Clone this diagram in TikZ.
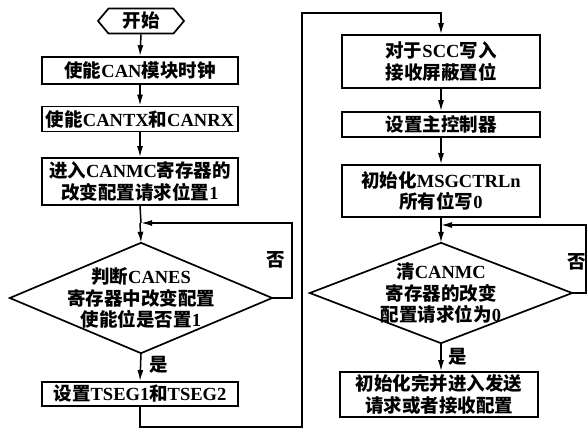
\documentclass[tikz,border=0pt]{standalone}
\usepackage{fontspec}
\setmainfont{Liberation Serif}
\newfontfamily\cjk{Noto Sans CJK SC}
\newcommand{\zh}[1]{{\cjk\bfseries #1}}
\usetikzlibrary{arrows.meta,shapes.symbols}
\begin{document}
\begin{tikzpicture}[x=1pt,y=-1pt,
  font=\fontsize{18.5}{21.5}\selectfont\bfseries,
  every node/.style={inner sep=1pt},
  stepbox/.style={draw,line width=1.7pt,minimum width=196pt,align=center},
  decbox/.style={minimum width=262pt,align=center},
  conn/.style={line width=1.5pt},
  arr/.style={conn,-{Latex[length=11pt,width=6pt]}},
  lbl/.style={inner sep=0pt}]
\useasboundingbox (0,0) rectangle (587,429);
% left column
\node[draw,line width=1.7pt,shape=signal,signal to=west and east,signal pointer angle=100,
      minimum width=86pt,minimum height=25pt] (start) at (141,21) {\zh{开始}};
\node[stepbox,minimum height=27pt] (b1) at (140,70.5) {\zh{使能}CAN\zh{模块时钟}};
\node[stepbox,minimum height=25pt] (b2) at (140,119) {\zh{使能}CANTX\zh{和}CANRX};
\node[stepbox,minimum height=47pt] (b3) at (140,181.5) {\zh{进入}CANMC\zh{寄存器的}\\\zh{改变配置请求位置}1};
\node[decbox,minimum height=110pt] (d1) at (141,298) {\zh{判断}CANES\\\zh{寄存器中改变配置}\\\zh{使能位是否置}1};
\draw[line width=1.7pt] (d1.north) -- (d1.east) -- (d1.south) -- (d1.west) -- cycle;
\node[stepbox,minimum height=24pt] (b4) at (140,394) {\zh{设置}TSEG1\zh{和}TSEG2};
% right column
\node[stepbox,minimum width=198pt,minimum height=53pt] (r1) at (441,61.5) {\zh{对于}SCC\zh{写入}\\\zh{接收屏蔽置位}};
\node[stepbox,minimum width=198pt,minimum height=25pt] (r2) at (441,124.5) {\zh{设置主控制器}};
\node[stepbox,minimum width=198pt,minimum height=52pt] (r3) at (441,191) {\zh{初始化}MSGCTRLn\\\zh{所有位写}0};
\node[decbox,minimum height=100pt] (d2) at (441,293) {\zh{清}CANMC\\\zh{寄存器的改变}\\\zh{配置请求位为}0};
\draw[line width=1.7pt] (d2.north) -- (d2.east) -- (d2.south) -- (d2.west) -- cycle;
\node[stepbox,minimum width=198pt,minimum height=45pt] (r4) at (439,394.5) {\zh{初始化完并进入发送}\\\zh{请求或者接收配置}};
% coordinates
\coordinate (j1) at (141,223);
\coordinate (j2) at (441,225);
\coordinate (c1) at (302,427);
\coordinate (c2) at (302,13);
% connectors left
\draw[arr] (start.south) -- (b1.north);
\draw[arr] (b1.south) -- (b2.north);
\draw[arr] (b2.south) -- (b3.north);
\draw[arr] (b3.south |- j1) -- (d1.north);
\draw[conn] (b3.south) -- (j1);
\draw[arr] (d1.east) -- ++(20,0) |- (j1);
\draw[arr] (d1.south) -- (b4.north);
\node[lbl] (no1) at (276,260) {\zh{否}};
\node[lbl] (yes1) at (159,365) {\zh{是}};
% big connector
\draw[arr] (b4.south) |- (c1) -- (c2) -| (r1.north);
% connectors right
\draw[arr] (r1.south) -- (r2.north);
\draw[arr] (r2.south) -- (r3.north);
\draw[conn] (r3.south) -- (j2);
\draw[arr] (j2) -- (d2.north);
\draw[arr] (d2.east) -- (586,293) |- (j2);
\draw[arr] (d2.south) -- (d2.south |- r4.north);
\node[lbl] (no2) at (577,262) {\zh{否}};
\node[lbl] (yes2) at (458,357) {\zh{是}};
\end{tikzpicture}
\end{document}
